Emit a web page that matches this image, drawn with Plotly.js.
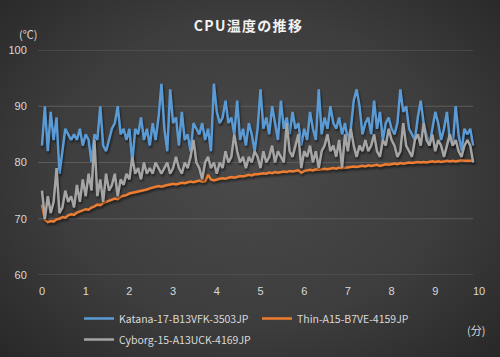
<!DOCTYPE html>
<html><head><meta charset="utf-8">
<script src="https://cdn.plot.ly/plotly-3.0.1.min.js"></script>
<style>
html,body{margin:0;padding:0;}
body{width:500px;height:357px;overflow:hidden;background:radial-gradient(ellipse 72% 78% at 50% 48%, #4a4a4a 0%, #3d3d3d 55%, #262626 100%);}
#chart{width:500px;height:357px;}
.scatterlayer .trace .js-line{filter:drop-shadow(1px 2px 1.2px rgba(0,0,0,0.55));}
.gtitle{letter-spacing:1.3px;}
</style></head>
<body><div id="chart"></div>
<script>
// sampling interval (seconds) of the logged temperatures
const sampleSeconds = 4;

const seriesNames = ["Katana-17-B13VFK-3503JP", "Thin-A15-B7VE-4159JP", "Cyborg-15-A13UCK-4169JP"];
const seriesColors = ["#5b9bd5", "#ed7d31", "#a5a5a5"];

const katana = [83,90,82,89,84,88,78,82,86,85,84,85,84,86,83,85,84,80,85,84,
  90,83,82,84,86,87,90,85,86,84,86,80,86,85,88,84,86,83,87,84,
  88,94,86,82,93,87,88,83,89,84,85,82,87,86,85,87,84,86,82,94,
  89,87,88,91,87,88,85,91,84,86,83,87,85,82,86,93,86,88,85,90,
  87,84,91,86,88,85,89,86,87,83,86,84,89,86,84,93,85,88,86,90,
  87,86,88,85,87,84,86,91,93,90,85,87,88,85,91,86,89,84,87,88,
  86,85,87,93,89,90,86,85,84,88,91,87,85,83,86,89,87,84,86,89,
  84,83,90,85,82,86,85,86,83];

const thin = [72.5,69.8,69.4,69.6,69.5,69.9,70.0,70.3,70.2,70.6,70.8,70.7,71.1,71.3,71.5,71.7,71.6,72.0,72.2,72.5,
  72.4,72.8,73.0,73.2,73.4,73.6,73.5,73.9,74.1,74.2,74.5,74.6,74.7,74.9,75.0,75.1,75.2,75.4,75.5,75.6,
  75.8,75.7,75.9,76.0,76.1,76.2,76.1,76.3,76.4,76.3,76.5,76.6,76.5,76.7,76.8,76.6,76.7,77.8,77.0,76.8,
  77.0,77.1,77.2,77.1,77.3,77.4,77.3,77.5,77.6,77.5,77.7,77.8,77.7,77.9,77.9,78.0,78.1,78.0,78.2,78.1,
  78.3,78.2,78.3,78.4,78.3,78.5,78.4,78.5,78.6,78.2,78.5,78.6,78.7,78.6,78.8,78.7,78.8,78.9,78.8,78.9,
  79.0,78.9,79.1,79.0,79.1,79.1,79.2,79.3,79.2,79.3,79.4,79.3,79.5,79.4,79.5,79.6,79.4,79.6,79.7,79.6,
  79.7,79.8,79.7,79.9,79.8,79.9,80.0,79.9,80.0,80.1,80.0,80.1,80.0,80.1,80.2,80.1,80.2,80.1,80.2,80.3,
  80.2,80.3,80.2,80.3,80.4,80.3,80.3,80.4,80.3];

const cyborg = [75,70,74,71,73,79,71,72,75,73,74,72,76,73,77,74,78,75,84,74,
  77,73,78,75,76,78,74,77,76,78,77,81,78,79,77,80,78,79,78,80,
  79,78,79,80,78,79,81,79,78,80,79,81,84,80,79,77,80,81,79,80,
  78,80,79,82,80,81,85,82,80,81,79,81,80,82,81,79,82,80,81,83,
  80,82,81,80,87,82,81,83,85,79,82,81,83,80,82,79,82,83,85,82,
  83,81,84,79,85,82,86,83,81,83,82,84,82,83,85,82,81,84,83,86,
  84,83,81,82,87,83,82,81,84,85,83,87,84,83,85,82,84,83,81,83,
  85,83,84,82,81,83,84,83,80];

const xTickVals = [0,1,2,3,4,5,6,7,8,9,10];
const yTickVals = [60,70,80,90,100];

function minutes(arr){ return arr.map((_, i) => i * sampleSeconds / 60); }

const values = [katana, thin, cyborg];
const legendIds = ["legend", "legend", "legend2"];
const traces = values.map((v, k) => ({
  type: "scatter", mode: "lines", name: seriesNames[k], legend: legendIds[k],
  x: minutes(v), y: v,
  line: {color: seriesColors[k], width: 2.5}
}));

const W = 500, H = 357;
const L = 38, R = 21, T = 50, B = 82;
const plotW = W - L - R;          // 441
const plotH = H - T - B;          // 225
const pxPerMin = 43.7;
const x0px = 4;                   // offset of minute 0 from plot left
const gridRightPx = 435;          // horizontal gridlines end here
const xRange = [-x0px / pxPerMin, (plotW - x0px) / pxPerMin];

const tickFont = {family: "Liberation Sans, Arial, sans-serif", size: 11, color: "#d9d9d9"};
const legendFont = {family: "Noto Sans CJK JP, Liberation Sans, sans-serif", size: 10.5, color: "#d9d9d9"};

// horizontal gridlines at the y tick values (they stop short of the last x label)
const gridShapes = yTickVals.map(v => ({
  type: "line", layer: "below", xref: "paper", yref: "y",
  x0: 0, x1: gridRightPx / plotW, y0: v, y1: v,
  line: {color: "#5c5c5c", width: 1}
}));

const layout = {
  width: W, height: H,
  margin: {l: L, r: R, t: T, b: B, pad: 0, autoexpand: false},
  paper_bgcolor: "rgba(0,0,0,0)", plot_bgcolor: "rgba(0,0,0,0)",
  title: {text: "<b>CPU温度の推移</b>", x: 0.497, xanchor: "center", y: 1 - 26 / H, yanchor: "middle",
          font: {family: "Noto Sans CJK JP, sans-serif", size: 14, color: "#f2f2f2"}},
  showlegend: true,
  legend: {orientation: "h", x: (79 - L) / plotW, xanchor: "left", y: -(304 - 275) / plotH, yanchor: "top",
           font: legendFont, bgcolor: "rgba(0,0,0,0)", entrywidth: 133, entrywidthmode: "pixels", traceorder: "normal"},
  legend2: {orientation: "h", x: (79 - L) / plotW, xanchor: "left", y: -(325 - 275) / plotH, yanchor: "top",
           font: legendFont, bgcolor: "rgba(0,0,0,0)", entrywidth: 133, entrywidthmode: "pixels"},
  xaxis: {domain: [0, 1], range: xRange, tickvals: xTickVals, ticktext: xTickVals.map(String),
          showgrid: false, zeroline: false, showline: false,
          ticks: "outside", ticklen: 6, tickcolor: "rgba(0,0,0,0)", tickfont: tickFont},
  yaxis: {range: [60, 100], tickvals: yTickVals, showgrid: false,
          zeroline: false, showline: false, ticks: "outside", ticklen: 8, tickcolor: "rgba(0,0,0,0)",
          tickfont: tickFont},
  shapes: gridShapes,
  annotations: [
    {text: "(℃)", xref: "paper", yref: "paper", x: (28 - L) / plotW, y: (275 - 34) / plotH,
     xanchor: "center", yanchor: "middle", showarrow: false,
     font: {family: "Noto Sans CJK JP, sans-serif", size: 11, color: "#d9d9d9"}},
    {text: "(分)", xref: "paper", yref: "paper", x: (476 - L) / plotW, y: (275 - 330) / plotH,
     xanchor: "center", yanchor: "middle", showarrow: false,
     font: {family: "Noto Sans CJK JP, sans-serif", size: 11, color: "#d9d9d9"}}
  ]
};

Plotly.newPlot("chart", traces, layout, {staticPlot: true, displayModeBar: false});
</script>
</body></html>
